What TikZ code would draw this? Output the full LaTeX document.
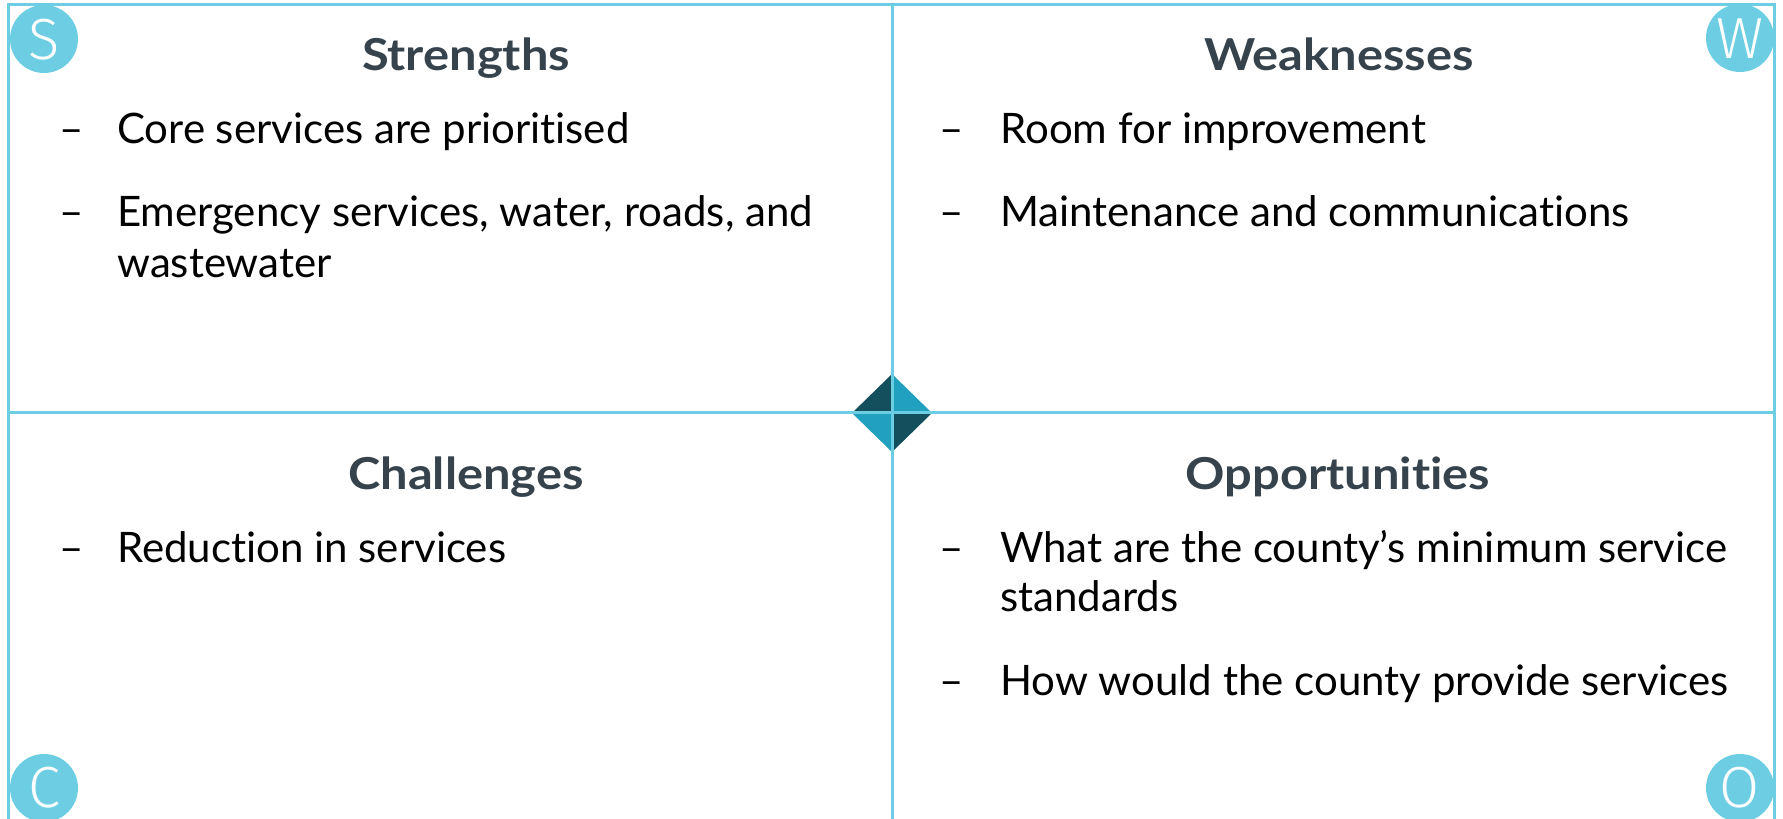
\documentclass[tikz,border=0pt]{standalone}
\usepackage{fontspec}
\setmainfont{Lato}[Ligatures=NoCommon]
\newfontfamily\titlefont{Lato}[FakeStretch=1.11,Ligatures=NoCommon]
\newfontfamily\thinfont{Fira Sans Light}
\definecolor{framec}{HTML}{6DCEE3}
\definecolor{titlec}{HTML}{36434D}
\definecolor{dk}{HTML}{134F5C}
\definecolor{lt}{HTML}{22A0C0}
\tikzset{
 frameline/.style={draw=framec, line width=3pt},
 discfill/.style={fill=framec},
 letterglyph/.style={anchor=base, inner sep=0pt, text=white, font=\thinfont\fontsize{58}{58}\selectfont},
 quadtitle/.style={anchor=base, text=titlec, font=\titlefont\bfseries\fontsize{44}{44}\selectfont, inner sep=0pt},
 dashmark/.style={anchor=base west, inner sep=0pt, font=\fontsize{42}{42}\selectfont},
 itemtext/.style={anchor=base west, inner sep=0pt, font=\fontsize{42}{42}\selectfont},
}
\begin{document}
\begin{tikzpicture}[x=1pt,y=-1pt]
\useasboundingbox (0,0) rectangle (1783,819);
% centre diamond
\fill[dk] (852,413) -- (892,374) -- (892,413) -- cycle;
\fill[lt] (892,374) -- (932,413) -- (892,413) -- cycle;
\fill[lt] (852,413) -- (892,452) -- (892,413) -- cycle;
\fill[dk] (892,452) -- (932,413) -- (892,413) -- cycle;
% letter discs
\fill[discfill] (44,39) circle (34);
\fill[discfill] (1740,38) circle (34);
\fill[discfill] (44,788) circle (34);
\fill[discfill] (1740,788) circle (34);
\node[letterglyph] (ls) at (44,59) {S};
\node[letterglyph] (lw) at (1740,58) {W};
\node[letterglyph] (lc) at (44,807) {C};
\node[letterglyph] (lo) at (1740,807) {O};
% frame lines
\draw[frameline] (8.5,840) -- (8.5,4.5) -- (1774.5,4.5) -- (1774.5,840);
\draw[frameline] (892,4.5) -- (892,840);
\draw[frameline] (8.5,412) -- (1774.5,412);
% titles
\node[quadtitle] (ts) at (466,70) {Strengths};
\node[quadtitle] (tw) at (1339,70) {Weaknesses};
\node[quadtitle] (tc) at (466,489) {Challenges};
\node[quadtitle] (to) at (1338,489) {Opportunities};
% strengths items
\node[dashmark] (sd1) at (59,143) {--};
\node[itemtext] (s1) at (117,143) {Core services are prioritised};
\node[dashmark] (sd2) at (59,226) {--};
\node[itemtext] (s2a) at (117,226) {Emergency services, water, roads, and};
\node[itemtext] (s2b) at (117,277) {wastewater};
% weaknesses items
\node[dashmark] (wd1) at (939,143) {--};
\node[itemtext] (w1) at (1000,143) {Room for improvement};
\node[dashmark] (wd2) at (939,226) {--};
\node[itemtext] (w2) at (1000,226) {Maintenance and communications};
% challenges items
\node[dashmark] (cd1) at (59,562) {--};
\node[itemtext] (c1) at (117,562) {Reduction in services};
% opportunities items
\node[dashmark] (od1) at (939,562) {--};
\node[itemtext] (o1a) at (1000,562) {What are the county’s minimum service};
\node[itemtext] (o1b) at (1000,611) {standards};
\node[dashmark] (od2) at (939,695) {--};
\node[itemtext] (o2) at (1000,695) {How would the county provide services};
\end{tikzpicture}
\end{document}
